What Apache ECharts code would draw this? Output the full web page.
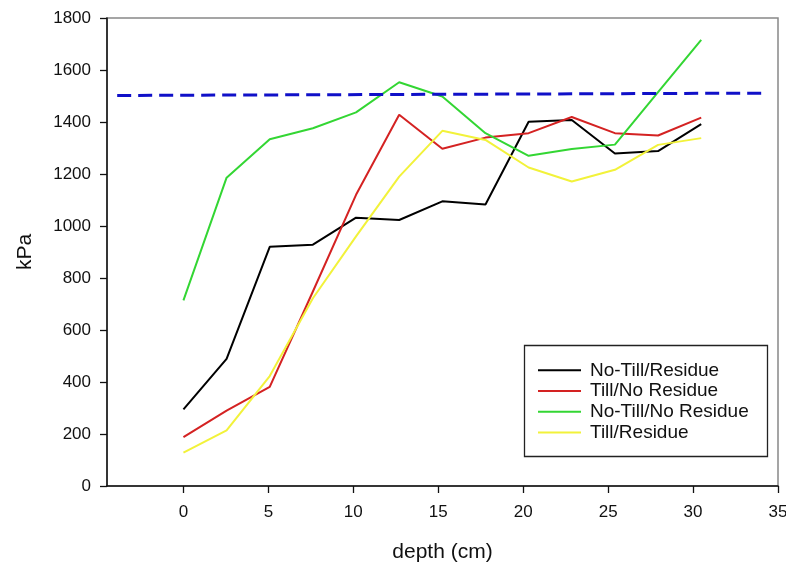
<!DOCTYPE html>
<html>
<head>
<meta charset="utf-8">
<script src="https://cdn.jsdelivr.net/npm/echarts@6/dist/echarts.min.js"></script>
<style>
  html, body { margin: 0; padding: 0; background: #fff; }
  #chart { width: 786px; height: 565px; }
</style>
</head>
<body>
<div id="chart"></div>
<script>
// 深度（cm），每 2.54 cm 一个测点
const depths = [0, 2.54, 5.08, 7.62, 10.16, 12.7, 15.24, 17.78, 20.32, 22.86, 25.4, 27.94, 30.48]
const noTillResidue = [295, 489, 920, 928, 1032, 1023, 1095, 1083, 1401, 1408, 1279, 1288, 1392]
const tillNoResidue = [188, 290, 381, 748, 1120, 1428, 1297, 1340, 1357, 1419, 1357, 1348, 1417]
const noTillNoResidue = [714, 1186, 1334, 1376, 1437, 1553, 1498, 1357, 1270, 1296, 1313, 1515, 1716]
const tillResidue = [128, 214, 423, 722, 960, 1190, 1366, 1331, 1225, 1171, 1216, 1312, 1338]
// 蓝色虚线（参考线）
const limitLine = [[-3.9, 1502], [34.1, 1511]]
const xTicks = [0, 5, 10, 15, 20, 25, 30, 35]

const seriesNames = ['No-Till/Residue', 'Till/No Residue', 'No-Till/No Residue', 'Till/Residue']
const seriesColors = ['#000000', '#d42222', '#33d633', '#f2f23a']
const seriesData = [noTillResidue, tillNoResidue, noTillNoResidue, tillResidue]

const font = 'Liberation Sans, Arial, sans-serif'

const chart = echarts.init(document.getElementById('chart'))

const series = seriesData.map((values, i) => ({
  name: seriesNames[i],
  type: 'line',
  data: depths.map((d, j) => [d, values[j]]),
  symbol: 'none',
  lineStyle: { color: seriesColors[i], width: 2 },
  itemStyle: { color: seriesColors[i] },
  z: 3
}))
series.push({
  name: 'limit',
  type: 'line',
  data: limitLine,
  symbol: 'none',
  lineStyle: { color: '#1010c8', width: 3, type: [14, 7] },
  z: 4
})

chart.setOption({
  animation: false,
  backgroundColor: '#fff',
  grid: {
    left: 107, right: 8, top: 18, bottom: 79,
    outerBoundsMode: 'none',
    show: true, borderColor: '#888', borderWidth: 1.5
  },
  legend: {
    data: seriesNames,
    orient: 'vertical',
    left: 538, top: 360,
    icon: 'rect',
    itemWidth: 43, itemHeight: 2,
    itemGap: 0,
    padding: 0,
    textStyle: { fontFamily: font, fontSize: 19, color: '#111', lineHeight: 20.7, padding: [0, 0, 0, 4] }
  },
  graphic: [{
    type: 'rect',
    shape: { x: 524.5, y: 345.5, width: 243, height: 111 },
    style: { fill: 'none', stroke: '#222', lineWidth: 1.3 },
    z: 1
  }],
  xAxis: {
    type: 'value',
    min: -4.5, max: 35,
    name: 'depth (cm)',
    nameLocation: 'middle',
    nameGap: 56,
    nameTextStyle: { fontFamily: font, fontSize: 21, color: '#111' },
    splitLine: { show: false },
    axisLine: { onZero: false, lineStyle: { color: '#111', width: 1.5 } },
    axisTick: { length: 7, lineStyle: { color: '#111', width: 1.3 }, customValues: xTicks },
    axisLabel: { margin: 18, fontFamily: font, fontSize: 17, color: '#111', customValues: xTicks }
  },
  yAxis: {
    type: 'value',
    min: 0, max: 1800, interval: 200,
    name: 'kPa',
    nameLocation: 'middle',
    nameGap: 71,
    nameTextStyle: { fontFamily: font, fontSize: 21, color: '#111' },
    splitLine: { show: false },
    axisLine: { show: true, onZero: false, lineStyle: { color: '#111', width: 1.5 } },
    axisTick: { show: true, length: 7, lineStyle: { color: '#111', width: 1.3 } },
    axisLabel: { margin: 16, fontFamily: font, fontSize: 17, color: '#111', formatter: v => String(v) }
  },
  series: series
})
</script>
</body>
</html>
